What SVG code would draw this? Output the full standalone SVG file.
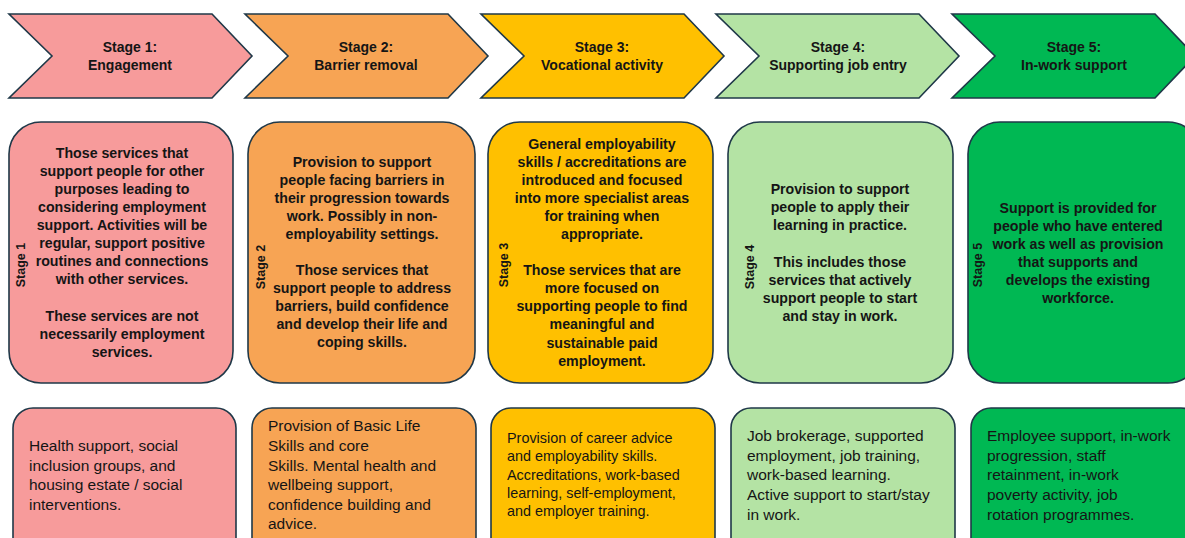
<svg xmlns="http://www.w3.org/2000/svg" width="1185" height="538" viewBox="0 0 1185 538">
<style>
.sh{stroke:#1f3848;stroke-width:1.6}
.c1{fill:#F79B9B}.c2{fill:#F7A454}.c3{fill:#FFC000}.c4{fill:#B4E3A4}.c5{fill:#00B853}
.t{font-family:"Liberation Sans",Arial,sans-serif;fill:#151515}
.h{font-size:14px;font-weight:bold;text-anchor:middle}
.m{font-size:14.2px;font-weight:bold;text-anchor:middle}
.v{font-size:12.5px;font-weight:bold;text-anchor:middle}
.b{font-size:15.5px}
.b3{font-size:14.4px}
</style>
<rect width="1185" height="538" fill="#ffffff"/>
<g id="chevrons">
<g id="chev1"><path class="sh c1" d="M9,14 L212,14 L252,56 L212,98 L9,98 L52,56 Z"/><text class="t h" x="130" y="52">Stage 1:</text><text class="t h" x="130" y="70">Engagement</text></g>
<g id="chev2"><path class="sh c2" d="M245,14 L448,14 L488,56 L448,98 L245,98 L288,56 Z"/><text class="t h" x="366" y="52">Stage 2:</text><text class="t h" x="366" y="70">Barrier removal</text></g>
<g id="chev3"><path class="sh c3" d="M481,14 L684,14 L724,56 L684,98 L481,98 L524,56 Z"/><text class="t h" x="602" y="52">Stage 3:</text><text class="t h" x="602" y="70">Vocational activity</text></g>
<g id="chev4"><path class="sh c4" d="M716,14 L919,14 L959,56 L919,98 L716,98 L759,56 Z"/><text class="t h" x="838" y="52">Stage 4:</text><text class="t h" x="838" y="70">Supporting job entry</text></g>
<g id="chev5"><path class="sh c5" d="M952,14 L1155,14 L1195,56 L1155,98 L952,98 L995,56 Z"/><text class="t h" x="1074" y="52">Stage 5:</text><text class="t h" x="1074" y="70">In-work support</text></g>
</g>
<g id="descriptions">
<g id="desc1"><rect class="sh c1" x="9" y="122" width="224" height="261" rx="32"/>
<text class="t v" transform="translate(24.5,265) rotate(-90)">Stage 1</text>
<text class="t m"><tspan x="122" y="158">Those services that</tspan><tspan x="122" y="176">support people for other</tspan><tspan x="122" y="194">purposes leading to</tspan><tspan x="122" y="212">considering employment</tspan><tspan x="122" y="230">support. Activities will be</tspan><tspan x="122" y="248">regular, support positive</tspan><tspan x="122" y="266">routines and connections</tspan><tspan x="122" y="284">with other services.</tspan><tspan x="122" y="321">These services are not</tspan><tspan x="122" y="339">necessarily employment</tspan><tspan x="122" y="357">services.</tspan></text></g>
<g id="desc2"><rect class="sh c2" x="248" y="122" width="227" height="261" rx="32"/>
<text class="t v" transform="translate(264.5,267) rotate(-90)">Stage 2</text>
<text class="t m"><tspan x="362" y="167">Provision to support</tspan><tspan x="362" y="185">people facing barriers in</tspan><tspan x="362" y="203">their progression towards</tspan><tspan x="362" y="221">work. Possibly in non-</tspan><tspan x="362" y="239">employability settings.</tspan><tspan x="362" y="275">Those services that</tspan><tspan x="362" y="293">support people to address</tspan><tspan x="362" y="311">barriers, build confidence</tspan><tspan x="362" y="329">and develop their life and</tspan><tspan x="362" y="347">coping skills.</tspan></text></g>
<g id="desc3"><rect class="sh c3" x="488" y="122" width="225" height="261" rx="32"/>
<text class="t v" transform="translate(507.5,265) rotate(-90)">Stage 3</text>
<text class="t m"><tspan x="602" y="149">General employability</tspan><tspan x="602" y="167">skills / accreditations are</tspan><tspan x="602" y="185">introduced and focused</tspan><tspan x="602" y="203">into more specialist areas</tspan><tspan x="602" y="221">for training when</tspan><tspan x="602" y="239">appropriate.</tspan><tspan x="602" y="275">Those services that are</tspan><tspan x="602" y="293">more focused on</tspan><tspan x="602" y="311">supporting people to find</tspan><tspan x="602" y="329">meaningful and</tspan><tspan x="602" y="348">sustainable paid</tspan><tspan x="602" y="366">employment.</tspan></text></g>
<g id="desc4"><rect class="sh c4" x="728" y="122" width="225" height="261" rx="32"/>
<text class="t v" transform="translate(753.5,267) rotate(-90)">Stage 4</text>
<text class="t m"><tspan x="840" y="194">Provision to support</tspan><tspan x="840" y="212">people to apply their</tspan><tspan x="840" y="230">learning in practice.</tspan><tspan x="840" y="267">This includes those</tspan><tspan x="840" y="285">services that actively</tspan><tspan x="840" y="303">support people to start</tspan><tspan x="840" y="321">and stay in work.</tspan></text></g>
<g id="desc5"><rect class="sh c5" x="968" y="122" width="232" height="261" rx="32"/>
<text class="t v" transform="translate(981.5,265) rotate(-90)">Stage 5</text>
<text class="t m"><tspan x="1078" y="213">Support is provided for</tspan><tspan x="1078" y="231">people who have entered</tspan><tspan x="1078" y="249">work as well as provision</tspan><tspan x="1078" y="267">that supports and</tspan><tspan x="1078" y="285">develops the existing</tspan><tspan x="1078" y="303">workforce.</tspan></text></g>
</g>
<g id="examples">
<g id="ex1"><rect class="sh c1" x="13" y="408" width="223" height="150" rx="20"/>
<text class="t b"><tspan x="29" y="451">Health support, social</tspan><tspan x="29" y="470.5">inclusion groups, and</tspan><tspan x="29" y="490">housing estate / social</tspan><tspan x="29" y="509.5">interventions.</tspan></text></g>
<g id="ex2"><rect class="sh c2" x="252" y="408" width="224" height="150" rx="20"/>
<text class="t b"><tspan x="268" y="431">Provision of Basic Life</tspan><tspan x="268" y="451">Skills and core</tspan><tspan x="268" y="470.5">Skills. Mental health and</tspan><tspan x="268" y="490">wellbeing support,</tspan><tspan x="268" y="510">confidence building and</tspan><tspan x="268" y="529">advice.</tspan></text></g>
<g id="ex3"><rect class="sh c3" x="491" y="408" width="224" height="150" rx="20"/>
<text class="t b3"><tspan x="507" y="443">Provision of career advice</tspan><tspan x="507" y="461">and employability skills.</tspan><tspan x="507" y="480">Accreditations, work-based</tspan><tspan x="507" y="498">learning, self-employment,</tspan><tspan x="507" y="516">and employer training.</tspan></text></g>
<g id="ex4"><rect class="sh c4" x="731" y="408" width="224" height="150" rx="20"/>
<text class="t b"><tspan x="747" y="441">Job brokerage, supported</tspan><tspan x="747" y="461">employment, job training,</tspan><tspan x="747" y="480">work-based learning.</tspan><tspan x="747" y="500">Active support to start/stay</tspan><tspan x="747" y="520">in work.</tspan></text></g>
<g id="ex5"><rect class="sh c5" x="971" y="408" width="230" height="150" rx="20"/>
<text class="t b"><tspan x="987" y="441">Employee support, in-work</tspan><tspan x="987" y="461">progression, staff</tspan><tspan x="987" y="480">retainment, in-work</tspan><tspan x="987" y="500">poverty activity, job</tspan><tspan x="987" y="520">rotation programmes.</tspan></text></g>
</g>
<g id="connectors"></g>
</svg>
